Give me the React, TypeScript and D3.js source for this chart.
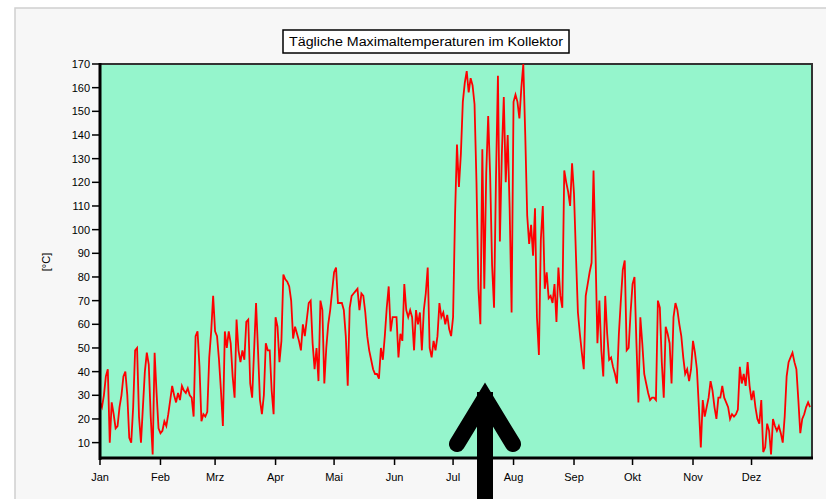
import React from "react";
import * as d3 from "d3";

const monthLabels = ["Jan", "Feb", "Mrz", "Apr", "Mai", "Jun", "Jul", "Aug", "Sep", "Okt", "Nov", "Dez"];
const monthStartDays = [0, 31, 59, 90, 120, 151, 181, 212, 243, 273, 304, 334];
const yTicks = [10, 20, 30, 40, 50, 60, 70, 80, 90, 100, 110, 120, 130, 140, 150, 160, 170];

const jan = [27,25,30,38,41,10,27,22,16,17,25,30,38,40,30,12,10,25,49,50,21,10,25,40,48,43,21,5,48,31,16];
const feb = [14,15,19,17,22,28,34,30,27,31,28,34,32,31,33,30,29,21,55,57,42,19,22,21,23,46,57,72];
const mar = [57,55,45,32,17,57,50,57,52,38,29,62,49,44,49,45,61,62,35,29,49,69,49,28,22,30,52,49,49,32,22];
const apr = [63,59,44,53,81,79,78,76,70,54,59,56,53,49,60,55,62,69,70,52,41,50,36,70,66,35,50,60,66,74];
const mai = [82,84,69,69,69,66,55,34,67,72,73,74,75,66,73,72,65,55,49,45,41,39,39,37,50,45,55,67,76,57,63];
const jun = [63,63,46,56,53,77,66,63,66,63,49,66,60,65,49,66,73,84,50,46,53,49,55,69,63,65,60,64,58,55];
const jul = [63,106,136,118,132,154,162,167,158,164,161,153,120,75,60,134,75,124,148,123,85,67,122,165,95,132,156,120,140,109,65];
const aug = [154,157,154,147,160,170,140,106,94,102,89,109,63,47,96,110,75,82,71,72,69,77,61,84,72,67,125,120,116,110,128];
const sep = [115,89,65,56,48,41,72,77,82,86,125,91,52,70,49,38,72,56,45,46,42,39,35,56,70,83,87,49,50,65];
const okt = [77,80,52,27,63,52,39,35,31,28,29,29,28,70,67,44,29,59,56,52,35,63,69,66,60,55,46,39,41,36,41];
const nov = [53,48,41,25,8,28,21,25,29,36,32,25,20,29,29,34,29,27,25,20,22,21,22,24,42,35,39,34,44,34];
const dez = [28,32,25,20,18,28,6,8,18,15,5,20,17,15,17,14,10,21,38,44,46,48,44,41,28,14,20,22,25,27,25];

const title = "Tägliche Maximaltemperaturen im Kollektor";
const yLabel = "[°C]";

export default function App() {
  const W = 826, H = 499;
  const left = 100, right = 812, top = 64, bottom = 458;
  const values = [...jan, ...feb, ...mar, ...apr, ...mai, ...jun, ...jul, ...aug, ...sep, ...okt, ...nov, ...dez];
  const x = d3.scaleLinear().domain([0, 365]).range([left, right]);
  const y = d3.scaleLinear().domain([3.5, 170]).range([bottom, top]);
  const line = d3.line<number>().x((_, i) => x(i)).y((v) => y(v));
  const font = "'Liberation Sans', Arial, sans-serif";

  return (
    <svg width={W} height={H} style={{ position: "absolute", left: 0, top: 0 }} fontFamily={font}>
      <rect x={0} y={0} width={W} height={H} fill="#ffffff" />
      <rect x={15} y={8} width={W} height={H} fill="#f7f7f7" stroke="#d0d0d0" strokeWidth={1.5} />
      {/* title */}
      <rect x={283} y={30} width={286} height={23} fill="#ffffff" stroke="#000" strokeWidth={1.5} />
      <text x={426} y={46} textAnchor="middle" fontSize={12} textLength={274} lengthAdjust="spacingAndGlyphs" fill="#000">{title}</text>
      {/* plot */}
      <defs>
        <clipPath id="plotclip">
          <rect x={left} y={top - 1} width={right - left} height={bottom - top + 1} />
        </clipPath>
      </defs>
      <rect x={left} y={top} width={right - left} height={bottom - top} fill="#95f5cc" stroke="#333" strokeWidth={2} />
      <path d={line(values) || ""} fill="none" stroke="#ff0000" strokeWidth={1.8} clipPath="url(#plotclip)" strokeLinejoin="miter" />
      <line x1={left} x2={left} y1={top - 1} y2={bottom + 2} stroke="#000" strokeWidth={3} />
      <line x1={left - 1} x2={right + 1} y1={bottom} y2={bottom} stroke="#000" strokeWidth={3} />
      {/* y axis */}
      {yTicks.map((t) => (
        <g key={t}>
          <line x1={left - 8} x2={left} y1={y(t)} y2={y(t)} stroke="#000" strokeWidth={1.5} />
          <text x={left - 10} y={y(t) + 4} textAnchor="end" fontSize={11} fill="#000">{t}</text>
        </g>
      ))}
      <text transform={`translate(50,262) rotate(-90)`} textAnchor="middle" fontSize={11} fill="#000">{yLabel}</text>
      {/* x axis */}
      {monthLabels.map((m, i) => (
        <g key={m}>
          <line x1={x(monthStartDays[i])} x2={x(monthStartDays[i])} y1={bottom} y2={bottom + 7} stroke="#000" strokeWidth={1.5} />
          <text x={x(monthStartDays[i])} y={481} textAnchor="middle" fontSize={11} fill="#000">{m}</text>
        </g>
      ))}
      {/* arrow */}
      <rect x={477} y={392} width={16} height={120} fill="#000" />
      <path d="M457,444 L485,398 L513,444" fill="none" stroke="#000" strokeWidth={16} strokeLinecap="round" strokeLinejoin="miter" strokeMiterlimit={10} />
    </svg>
  );
}
